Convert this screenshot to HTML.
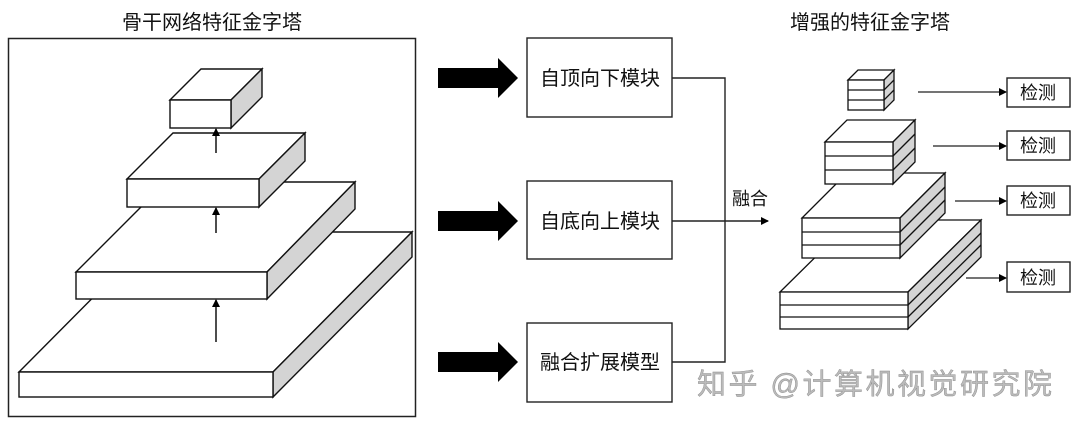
<!DOCTYPE html>
<html><head><meta charset="utf-8"><style>
html,body{margin:0;padding:0;background:#fff}
svg{display:block}
text{font-family:"Liberation Sans","Noto Sans CJK SC",sans-serif;fill:#111}
</style></head><body>
<svg width="1080" height="426" viewBox="0 0 1080 426" xmlns="http://www.w3.org/2000/svg">
<defs><marker id="a" markerWidth="8" markerHeight="8" refX="7" refY="4" orient="auto" markerUnits="userSpaceOnUse"><path d="M0,0 L8,4 L0,8 z" fill="#000"/></marker></defs>
<text x="212" y="29" font-size="20" text-anchor="middle">骨干网络特征金字塔</text>
<text x="870" y="29" font-size="20" text-anchor="middle">增强的特征金字塔</text>
<rect x="8.5" y="38.5" width="407" height="378" fill="none" stroke="#222" stroke-width="1.5"/>
<g stroke="#111" stroke-width="1.4" stroke-linejoin="miter">
<polygon points="19,372 158,232 412,232 273,372" fill="#fff"/>
<polygon points="273,372 412,232 412,257 273,397" fill="#d4d4d4"/>
<rect x="19" y="372" width="254" height="25" fill="#fff"/>
<polygon points="76,272 166,182 355,182 267,272" fill="#fff"/>
<polygon points="267,272 355,182 355,209 267,299" fill="#d4d4d4"/>
<rect x="76" y="272" width="191" height="27" fill="#fff"/>
<polygon points="127,179 173,133 305,133 259,179" fill="#fff"/>
<polygon points="259,179 305,133 305,161 259,207" fill="#d4d4d4"/>
<rect x="127" y="179" width="132" height="28" fill="#fff"/>
<polygon points="170,100 201,69 262,69 231,100" fill="#fff"/>
<polygon points="231,100 262,69 262,97 231,128" fill="#d4d4d4"/>
<rect x="170" y="100" width="61" height="28" fill="#fff"/>
</g>
<g stroke="#000" stroke-width="1.4" marker-end="url(#a)">
<line x1="216" y1="153" x2="216" y2="129"/>
<line x1="216" y1="233" x2="216" y2="208"/>
<line x1="216" y1="342" x2="216" y2="300"/>
</g>
<g fill="#000">
<polygon points="438,68 498,68 498,58 518,78 498,98 498,88 438,88"/>
<polygon points="438,211 498,211 498,201 518,221 498,241 498,231 438,231"/>
<polygon points="438,352 498,352 498,342 518,362 498,382 498,372 438,372"/>
</g>
<g fill="#fff" stroke="#222" stroke-width="1.4">
<rect x="527" y="38" width="145" height="79"/>
<rect x="527" y="181" width="145" height="78"/>
<rect x="527" y="323" width="145" height="79"/>
</g>
<g font-size="20" text-anchor="middle">
<text x="600" y="85">自顶向下模块</text>
<text x="600" y="228">自底向上模块</text>
<text x="600" y="369">融合扩展模型</text>
</g>
<g stroke="#222" stroke-width="1.4" fill="none">
<polyline points="672,78 725,78 725,362 672,362"/>
<line x1="672" y1="221" x2="768" y2="221" marker-end="url(#a)"/>
</g>
<text x="750" y="205" font-size="18" text-anchor="middle">融合</text>
<g stroke="#111" stroke-width="1.3">
<polygon points="780,292 853,220 981,220 908,292" fill="#fff"/>
<polygon points="908,292 981,220 981,257 908,329" fill="#d4d4d4"/>
<rect x="780" y="292" width="128" height="37" fill="#fff"/>
<line x1="780" y1="305" x2="908" y2="305"/><line x1="780" y1="317" x2="908" y2="317"/>
<line x1="908" y1="305" x2="981" y2="233"/><line x1="908" y1="317" x2="981" y2="245"/>
<polygon points="802,218 847,173 945,173 900,218" fill="#fff"/>
<polygon points="900,218 945,173 945,213 900,258" fill="#d4d4d4"/>
<rect x="802" y="218" width="98" height="40" fill="#fff"/>
<line x1="802" y1="232" x2="900" y2="232"/><line x1="802" y1="245" x2="900" y2="245"/>
<line x1="900" y1="232" x2="945" y2="187"/><line x1="900" y1="245" x2="945" y2="200"/>
<polygon points="825,142 847,120 915,120 893,142" fill="#fff"/>
<polygon points="893,142 915,120 915,162 893,184" fill="#d4d4d4"/>
<rect x="825" y="142" width="68" height="42" fill="#fff"/>
<line x1="825" y1="156" x2="893" y2="156"/><line x1="825" y1="170" x2="893" y2="170"/>
<line x1="893" y1="156" x2="915" y2="134"/><line x1="893" y1="170" x2="915" y2="148"/>
<polygon points="848,80 858,70 894,70 884,80" fill="#fff"/>
<polygon points="884,80 894,70 894,100 884,110" fill="#d4d4d4"/>
<rect x="848" y="80" width="36" height="30" fill="#fff"/>
<line x1="848" y1="90" x2="884" y2="90"/><line x1="848" y1="100" x2="884" y2="100"/>
<line x1="884" y1="90" x2="894" y2="80"/><line x1="884" y1="100" x2="894" y2="90"/>
</g>
<g stroke="#222" stroke-width="1.3" marker-end="url(#a)">
<line x1="918" y1="92" x2="1006" y2="92"/>
<line x1="933" y1="146" x2="1006" y2="146"/>
<line x1="955" y1="201" x2="1006" y2="201"/>
<line x1="966" y1="278" x2="1006" y2="278"/>
</g>
<g fill="#fff" stroke="#222" stroke-width="1.4">
<rect x="1007" y="78" width="63" height="29"/>
<rect x="1007" y="131" width="63" height="29"/>
<rect x="1007" y="186" width="63" height="29"/>
<rect x="1007" y="262" width="63" height="30"/>
</g>
<g font-size="18" text-anchor="middle">
<text x="1038" y="99">检测</text>
<text x="1038" y="152">检测</text>
<text x="1038" y="207">检测</text>
<text x="1038" y="284">检测</text>
</g>
<text x="697" y="394" font-size="29" textLength="355" lengthAdjust="spacing" style="fill:#bbb" stroke="#888" stroke-width="0.4">知乎 @计算机视觉研究院</text>
</svg>
</body></html>
